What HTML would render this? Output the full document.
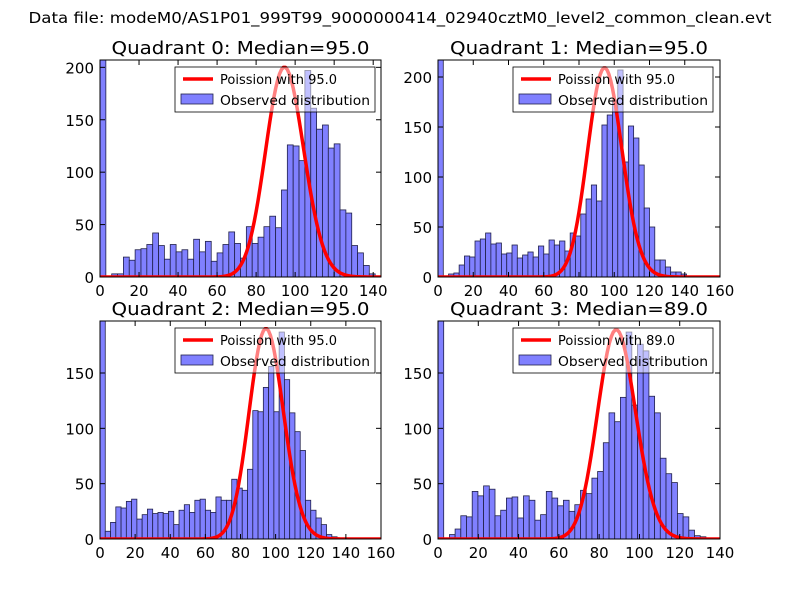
<!DOCTYPE html>
<html><head><meta charset="utf-8"><style>
body{margin:0;background:#fff;}
svg text{font-family:"DejaVu Sans","Liberation Sans",sans-serif;}
</style></head><body>
<svg id="chart" width="800" height="600" viewBox="0 0 800 600" xmlns="http://www.w3.org/2000/svg">
<rect width="800" height="600" fill="#fff"/>
<text x="400" y="23" font-size="15" text-anchor="middle" textLength="743" lengthAdjust="spacingAndGlyphs">Data file: modeM0/AS1P01_999T99_9000000414_02940cztM0_level2_common_clean.evt</text>
</svg>
<script>
const titles = ["Quadrant 0: Median=95.0","Quadrant 1: Median=95.0","Quadrant 2: Median=95.0","Quadrant 3: Median=89.0"];
const lambdas = [95, 95, 95, 89];
const peaks = [200, 209, 190, 189];
const binWidths = [3, 3, 3, 2.83];
const q0Counts = [250,0,3,3,19,16,26,27,31,42,30,17,31,24,26,17,36,24,34,15,23,31,43,32,18,48,32,38,48,58,47,83,126,125,111,197,161,141,145,123,127,64,61,30,23,11,3,0];
const q1Counts = [250,0,3,4,12,21,20,36,38,44,33,34,23,24,32,19,22,25,20,31,23,37,32,36,26,44,41,63,78,92,76,152,162,177,207,115,151,139,112,69,50,17,17,10,5,5,3];
const q2Counts = [250,7,15,29,28,34,36,18,22,27,23,24,23,25,13,26,31,24,35,36,26,24,38,35,35,54,46,44,63,116,115,137,156,115,187,144,114,97,80,35,26,19,13,4,2,1,1,1];
const q3Counts = [250,0,4,9,21,20,43,39,48,45,21,26,37,38,19,39,35,17,22,43,37,30,35,25,31,44,41,55,61,87,114,106,128,187,121,176,170,129,114,73,59,51,23,20,8,3,2];
const counts = [q0Counts,q1Counts,q2Counts,q3Counts];
const xMaxes = [144, 160, 160, 140];
const yMaxes = [207, 217, 197, 197];
const xTickSets = [[0,20,40,60,80,100,120,140],[0,20,40,60,80,100,120,140,160],[0,20,40,60,80,100,120,140,160],[0,20,40,60,80,100,120,140]];
const yTickSets = [[0,50,100,150,200],[0,50,100,150,200],[0,50,100,150],[0,50,100,150]];
const legendLabels = ["Poission with 95.0","Poission with 95.0","Poission with 95.0","Poission with 89.0"];

const boxes = [{l:100,t:60,r:381,b:277},{l:438,t:60,r:720,b:277},{l:100,t:321,r:381,b:539},{l:438,t:321,r:720,b:539}];
const NS="http://www.w3.org/2000/svg";
const svg=document.getElementById('chart');
function mk(tag,attrs,parent){const e=document.createElementNS(NS,tag);for(const k in attrs)e.setAttribute(k,attrs[k]);(parent||svg).appendChild(e);return e;}
function lgam(n){let s=0;for(let i=2;i<=n;i++)s+=Math.log(i);return s;}

for(let q=0;q<4;q++){
  const B=boxes[q];
  const g=mk('g',{});
  
  
  const xs=v=>B.l+(v/xMaxes[q])*(B.r-B.l);
  const ys=v=>B.b-(Math.min(v,yMaxes[q])/yMaxes[q])*(B.b-B.t);
  const clipId='clip'+q;
  const cp=mk('clipPath',{id:clipId},g);mk('rect',{x:B.l,y:B.t,width:B.r-B.l,height:B.b-B.t},cp);
  const plot=mk('g',{'clip-path':'url(#'+clipId+')'},g);
  counts[q].forEach((c,i)=>{
    const x0=xs(i*binWidths[q]),x1=xs((i+1)*binWidths[q]);
    const r=mk('rect',{x:x0,y:ys(c),width:Math.max(0,x1-x0),height:B.b-ys(c),fill:'#8080ff',stroke:'#20204a','stroke-width':0.8},plot);
    
    
  });
  const lam=lambdas[q];let pm=[];let mx=0;
  for(let k=0;k<=Math.floor(xMaxes[q]);k++){const p=Math.exp(k*Math.log(lam)-lam-lgam(k));pm.push(p);if(p>mx)mx=p;}
  let d='';pm.forEach((p,k)=>{d+=(k?'L':'M')+xs(k).toFixed(2)+','+ys(p/mx*peaks[q]).toFixed(2);});
  const pl=mk('path',{d:d,fill:'none',stroke:'#ff0000','stroke-width':3.5,'stroke-linejoin':'round'},plot);
  
  
  const fr=mk('rect',{x:B.l,y:B.t,width:B.r-B.l,height:B.b-B.t,fill:'none',stroke:'#000','stroke-width':1},g);
  
  
  xTickSets[q].forEach(v=>{
    const x=xs(v);
    mk('line',{x1:x,y1:B.b,x2:x,y2:B.b-5,stroke:'#000'},g);
    mk('line',{x1:x,y1:B.t,x2:x,y2:B.t+5,stroke:'#000'},g);
    const t=mk('text',{x:x,y:B.b+19,'font-size':15,'text-anchor':'middle'},g);t.textContent=v;
    
    
  });
  yTickSets[q].forEach(v=>{
    const y=ys(v);
    mk('line',{x1:B.l,y1:y,x2:B.l+5,y2:y,stroke:'#000'},g);
    mk('line',{x1:B.r,y1:y,x2:B.r-5,y2:y,stroke:'#000'},g);
    const t=mk('text',{x:B.l-6,y:y+6,'font-size':15,'text-anchor':'end'},g);t.textContent=v;
    
    
  });
  const tt=mk('text',{x:(B.l+B.r)/2,y:B.t-6,'font-size':18,'text-anchor':'middle',textLength:258,lengthAdjust:'spacingAndGlyphs'},g);tt.textContent=titles[q];
  
  
  const lg=mk('g',{},g);
  
  
  const lx=B.l+75,ly=B.t+7;
  mk('rect',{x:lx,y:ly,width:200,height:45,fill:'#fff','fill-opacity':0.5,stroke:'#000','stroke-width':0.8},lg);
  mk('line',{x1:lx+8,y1:ly+12,x2:lx+38,y2:ly+12,stroke:'#ff0000','stroke-width':3.5},lg);
  const t1=mk('text',{x:lx+45,y:ly+17,'font-size':13},lg);t1.textContent=legendLabels[q];
  
  
  mk('rect',{x:lx+6,y:ly+27,width:32,height:10,fill:'#8080ff',stroke:'#20204a','stroke-width':0.8},lg);
  const t2=mk('text',{x:lx+45,y:ly+38,'font-size':13,textLength:150,lengthAdjust:'spacingAndGlyphs'},lg);t2.textContent='Observed distribution';
  
  
}
</script>
</body></html>
